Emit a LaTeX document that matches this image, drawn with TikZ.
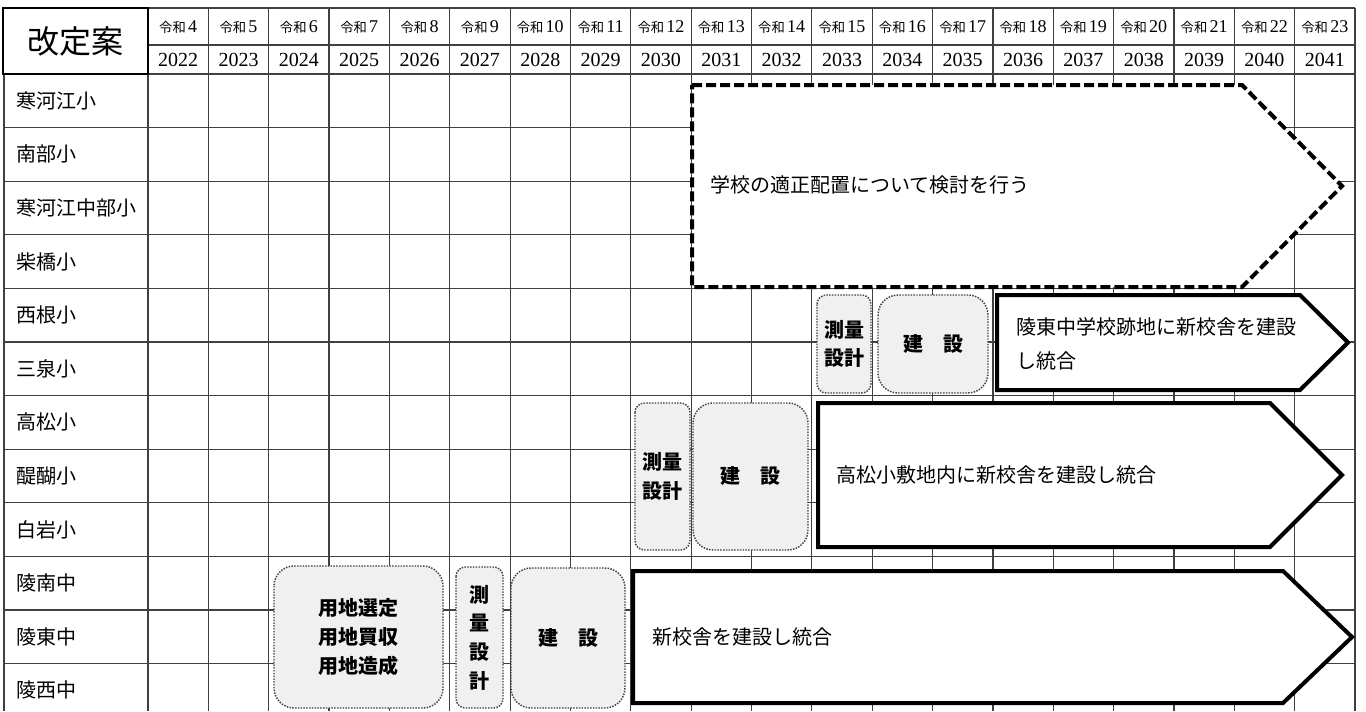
\documentclass[tikz,border=0pt]{standalone}
\usepackage{fontspec}
\setmainfont{Noto Sans CJK JP}
\newfontfamily\yearfont{Liberation Serif}
\usetikzlibrary{calc}
\definecolor{stepgray}{HTML}{F0F0F0}
\definecolor{gridgray}{HTML}{404040}
\tikzset{
  gridline/.style={draw=gridgray, line width=0.9pt},
  stepbox/.style={fill=stepgray, draw=black!75, densely dotted, line width=1.1pt, rounded corners=15pt},
  steptext/.style={font=\fontsize{15pt}{21.5pt}\bfseries\selectfont, align=center, inner sep=0pt},
  planarrow/.style={fill=white, draw=black, line width=3pt, line join=miter},
  plantext/.style={font=\fontsize{15pt}{26pt}\selectfont, anchor=west, align=left, inner sep=0pt},
  rowtext/.style={font=\fontsize{15pt}{17pt}\selectfont, anchor=west, inner sep=0pt},
  eratext/.style={font=\fontsize{10pt}{12pt}\selectfont, inner sep=0pt},
  yeartext/.style={font=\fontsize{15pt}{17pt}\yearfont, inner sep=0pt}
}
\newcommand{\stepbox}[7][]{\filldraw[stepbox,#1] (#2,#3) rectangle (#4,#5); \node[steptext] (#6) at ({(#2+#4)/2},{(#3+#5)/2}) {#7};}
\newcommand{\planarrow}[6][]{\filldraw[planarrow,#1] (#2,#3) -- (#4,#3) -- (#5,{(#3+#6)/2}) -- (#4,#6) -- (#2,#6) -- cycle;}

\begin{document}
\begin{tikzpicture}[x=0.75pt, y=-0.75pt]
  \useasboundingbox (0,0) rectangle (1366,711);
  % grid
  \foreach \i in {1,...,11}
    \draw[gridline] (4,{74+53.6*\i}) -- (1355,{74+53.6*\i});
  \draw[gridline] (4,74) -- (1355,74);
  \draw[gridline] (148,45) -- (1355,45);
  \draw[gridline] (148,8) -- (1355,8);
  \draw[gridline] (4,74) -- (4,711);
  \foreach \j in {0,...,20}
    \draw[gridline] ({148+60.35*\j},8) -- ({148+60.35*\j},711);
  % title cell
  \draw[line width=1.4pt] (3,8) rectangle (148,74);
  \node[font=\fontsize{24pt}{26pt}\selectfont] (title) at (75,41) {改定案};
  % header
  \foreach \y [count=\i from 0] in {4,...,23} {
    \pgfmathtruncatemacro{\yr}{\y+2018}
    \node[eratext] (era\i) at ({148+60.35*(\i+0.5)},27) {令和\,{\yearfont\fontsize{13.5pt}{14pt}\selectfont\y}};
    \node[yeartext] (year\i) at ({148+60.35*(\i+0.5)},60) {\yr};
  }
  % schools
  \foreach \name [count=\i] in {寒河江小,南部小,寒河江中部小,柴橋小,西根小,三泉小,高松小,醍醐小,白岩小,陵南中,陵東中,陵西中}
    \node[rowtext] (row\i) at (16,{74+53.6*(\i-0.5)}) {\name};
  % rows 1-4
  \planarrow[dashed, dash pattern=on 7.5pt off 3pt]{692}{85}{1242}{1342}{287}
  \node[plantext] (plan1) at (710,185) {学校の適正配置について検討を行う};
  % rows 5-6
  \stepbox[rounded corners=7pt]{817}{295}{871}{393}{survey1}{測量\\設計}
  \stepbox{878}{295}{988}{393}{build1}{建\hspace{1em}設}
  \planarrow{997}{295}{1300}{1348}{390}
  \node[plantext] (plan2) at (1016,344) {陵東中学校跡地に新校舎を建設\\し統合};
  % rows 7-9
  \stepbox[rounded corners=7pt]{635}{403}{690}{550}{survey2}{測量\\設計}
  \stepbox{693}{403}{808}{550}{build2}{建\hspace{1em}設}
  \planarrow{818}{403}{1270}{1342}{547}
  \node[plantext] (plan3) at (836,475) {高松小敷地内に新校舎を建設し統合};
  % rows 10-12
  \stepbox{274}{566}{443}{708}{land}{用地選定\\用地買収\\用地造成}
  \stepbox[rounded corners=7pt]{456}{567}{503}{708}{survey3}{測\\量\\設\\計}
  \stepbox{511}{568}{625}{708}{build3}{建\hspace{1em}設}
  \planarrow{633}{571}{1283}{1352}{703}
  \node[plantext] (plan4) at (652,637) {新校舎を建設し統合};
\end{tikzpicture}
\end{document}
